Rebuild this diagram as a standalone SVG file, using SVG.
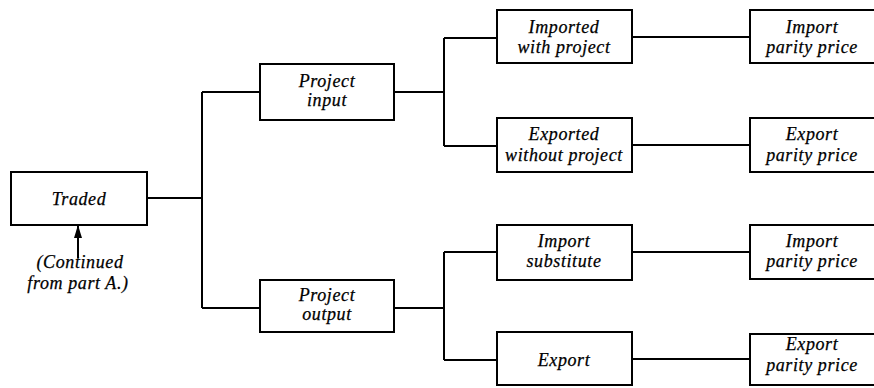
<svg xmlns="http://www.w3.org/2000/svg" width="874" height="388" viewBox="0 0 874 388">
<defs>
<style>
.box{fill:#fff;stroke:#000;stroke-width:2}
.ln{fill:none;stroke:#000;stroke-width:2}
text{font-family:"Liberation Serif","Times New Roman",serif;font-style:italic;font-size:18px;letter-spacing:0.6px;fill:#000;stroke:#000;stroke-width:0.25;text-anchor:middle}
</style>
<marker id="ah" markerWidth="13" markerHeight="8" refX="12" refY="4" orient="auto" markerUnits="userSpaceOnUse" viewBox="0 0 13 8">
<path d="M0,0 L13,4 L0,8 Z" fill="#000"/>
</marker>
</defs>
<rect width="874" height="388" fill="#fff"/>
<g id="connectors">
<path class="ln" d="M147,198 H202 M202,92 V308 M202,92 H260 M202,308 H260"/>
<path class="ln" d="M394,92 H444 M444,38 V146 M444,38 H497 M444,146 H497"/>
<path class="ln" d="M394,308 H444 M444,252 V360 M444,252 H497 M444,360 H497"/>
<path class="ln" d="M632,37 H750 M632,145 H750 M632,252 H750 M632,359 H750"/>
<line class="ln" x1="78" y1="258" x2="78" y2="226" marker-end="url(#ah)"/>
</g>
<g id="traded">
<rect class="box" x="11" y="172" width="136" height="53"/>
<text x="79" y="205">Traded</text>
</g>
<g id="continued">
<text x="80" y="268">(Continued</text>
<text x="78" y="289">from part A.)</text>
</g>
<g id="project-input">
<rect class="box" x="260" y="64" width="134" height="56"/>
<text x="327" y="87">Project</text>
<text x="327" y="106">input</text>
</g>
<g id="project-output">
<rect class="box" x="260" y="280" width="134" height="52"/>
<text x="327" y="301">Project</text>
<text x="327" y="320">output</text>
</g>
<g id="imported-with-project">
<rect class="box" x="497" y="10" width="135" height="53"/>
<text x="564" y="33">Imported</text>
<text x="564" y="53">with project</text>
</g>
<g id="exported-without-project">
<rect class="box" x="497" y="118" width="135" height="54"/>
<text x="564" y="140">Exported</text>
<text x="564" y="161">without project</text>
</g>
<g id="import-substitute">
<rect class="box" x="497" y="225" width="135" height="55"/>
<text x="564" y="247">Import</text>
<text x="564" y="267">substitute</text>
</g>
<g id="export">
<rect class="box" x="497" y="332" width="135" height="53"/>
<text x="564" y="366">Export</text>
</g>
<g id="import-parity-1">
<rect class="box" x="750" y="10" width="126" height="53"/>
<text x="812" y="33">Import</text>
<text x="812" y="53">parity price</text>
</g>
<g id="export-parity-1">
<rect class="box" x="750" y="118" width="126" height="54"/>
<text x="812" y="140">Export</text>
<text x="812" y="161">parity price</text>
</g>
<g id="import-parity-2">
<rect class="box" x="750" y="225" width="126" height="54"/>
<text x="812" y="247">Import</text>
<text x="812" y="267">parity price</text>
</g>
<g id="export-parity-2">
<rect class="box" x="750" y="334" width="126" height="51"/>
<text x="812" y="350">Export</text>
<text x="812" y="371">parity price</text>
</g>
</svg>
